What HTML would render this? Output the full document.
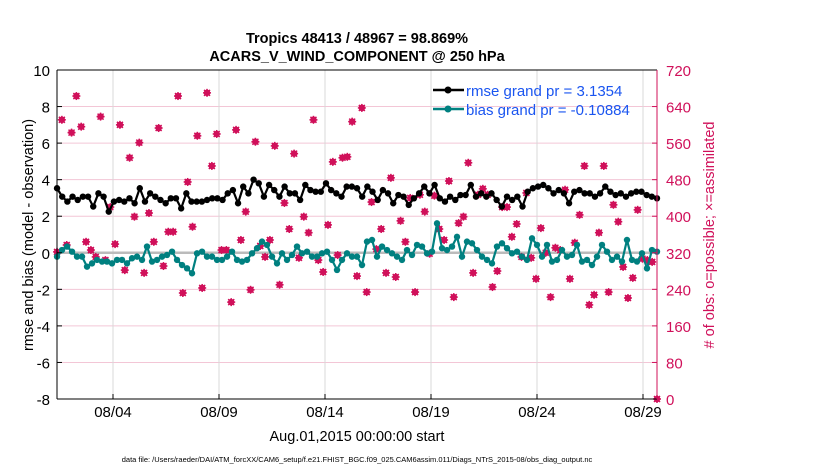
<!DOCTYPE html>
<html><head><meta charset="utf-8"><style>
body{margin:0;background:#fff;}
svg{display:block;font-family:"Liberation Sans",sans-serif;}
</style></head><body>
<svg id="chart" width="830" height="470">
<text x="357" y="43" text-anchor="middle" font-size="14.5" font-weight="bold">Tropics 48413 / 48967 = 98.869%</text>
<text x="357" y="61" text-anchor="middle" font-size="14.5" font-weight="bold">ACARS_V_WIND_COMPONENT @ 250 hPa</text>
<g id="grid"></g>
<g id="marks"></g>
<g id="axes"></g>
<text transform="translate(33,235) rotate(-90)" text-anchor="middle" font-size="14.5">rmse and bias (model - observation)</text>
<text transform="translate(714,235) rotate(-90)" text-anchor="middle" font-size="14.5" fill="#d0105a"># of obs: o=possible; ×=assimilated</text>
<text x="357" y="441" text-anchor="middle" font-size="14.5">Aug.01,2015 00:00:00 start</text>
<text x="357" y="462" text-anchor="middle" font-size="7.5">data file: /Users/raeder/DAI/ATM_forcXX/CAM6_setup/f.e21.FHIST_BGC.f09_025.CAM6assim.011/Diags_NTrS_2015-08/obs_diag_output.nc</text>
<g>
<line x1="433" y1="90" x2="464" y2="90" stroke="#000" stroke-width="2.5"/><circle cx="448" cy="90" r="3.5" fill="#000"/>
<text x="466" y="96" font-size="15" fill="#1a55f0">rmse grand pr = 3.1354</text>
<line x1="433" y1="109" x2="464" y2="109" stroke="#008080" stroke-width="2.5"/><circle cx="448" cy="109" r="3.5" fill="#008080"/>
<text x="466" y="115" font-size="15" fill="#1a55f0">bias grand pr = -0.10884</text>
</g>
</svg>
<script>
const rmse=[3.53,3.07,2.8,3.07,2.89,3.07,3.07,2.53,3.25,3.07,2.25,2.8,2.89,2.8,2.98,2.71,3.53,2.8,3.25,3.07,2.89,2.71,2.98,2.98,2.43,3.25,2.8,2.8,2.8,2.89,2.98,2.98,2.89,3.25,3.43,2.71,3.62,3.25,4.0,3.8,3.07,3.71,3.43,3.07,3.62,3.25,3.25,2.89,3.71,3.43,3.34,3.34,3.8,3.43,3.25,3.07,3.62,3.62,3.53,3.07,
3.62,3.34,2.89,3.43,3.25,2.71,3.16,3.07,2.62,2.98,3.25,3.62,3.25,3.71,2.98,2.8,3.07,2.89,3.16,3.16,3.71,3.07,3.25,3.07,3.25,2.89,2.53,3.07,2.89,3.07,2.53,3.34,3.53,3.62,3.71,3.53,3.25,3.43,3.25,2.71,3.34,3.43,3.25,3.25,3.07,3.25,3.62,3.34,3.16,3.25,3.07,3.25,3.34,3.34,3.16,3.07,2.98];
const bias=[-0.21,0.15,0.34,0.06,-0.21,-0.21,-0.76,-0.58,-0.39,-0.48,-0.48,-0.58,-0.39,-0.39,-0.58,-0.3,-0.21,-0.39,0.34,-0.48,-0.39,-0.21,-0.12,0.06,-0.39,-0.67,-0.85,-1.12,-0.03,0.06,-0.21,-0.21,-0.39,-0.39,-0.21,0.06,-0.39,-0.48,-0.39,-0.03,0.25,0.61,0.43,-0.21,-0.58,-0.03,-0.39,-0.12,0.34,-0.03,0.06,-0.21,-0.21,-0.03,0.06,-0.39,-0.94,-0.39,-0.03,-0.21,
-0.21,-0.67,0.61,0.7,-0.21,0.34,0.15,-0.03,-0.21,-0.39,0.15,-0.12,0.43,0.34,-0.03,0.06,1.61,0.25,0.15,0.34,0.87,-0.21,0.61,0.52,0.15,-0.21,-0.39,-0.58,0.34,0.52,0.25,-0.03,0.06,-0.21,-0.39,0.79,0.43,-0.21,0.43,-0.48,-0.39,0.15,-0.21,-0.12,0.43,-0.48,-0.39,-0.67,-0.21,0.43,0.06,-0.39,-0.21,-0.48,0.7,-0.39,-0.48,-0.03,-0.85,0.15,0.06];
const obs=[322,611,337,583,663,596,344,326,311,618,304,420,339,600,282,528,399,561,276,407,344,593,291,366,366,663,232,475,377,576,243,670,510,580,326,326,212,589,348,410,239,563,335,311,348,554,250,429,372,537,309,399,364,611,304,278,381,519,315,528,530,607,269,637,
234,431,328,372,276,484,267,390,344,440,234,447,410,318,445,372,348,477,223,385,399,517,276,447,460,447,245,280,420,420,355,383,311,451,309,263,374,320,223,331,326,458,263,342,403,510,206,228,364,510,234,425,388,289,221,265,414,307,304,300,0];
const xTicks=["08/04","08/09","08/14","08/19","08/24","08/29"];
const xTickDays=[3,8,13,18,23,28];
const leftTicks=[-8,-6,-4,-2,0,2,4,6,8,10];
const rightTicks=[0,80,160,240,320,400,480,560,640,720];
const startDay=0.36, endDay=28.66;

const L=57,R=657,T=70,B=399;
const xS=d=>49.4+21.2*d;
const yL=v=>B-(v+8)/18*(B-T);
const yR=v=>B-v/720*(B-T);
const NS="http://www.w3.org/2000/svg";
function mk(tag,at,parent){const e=document.createElementNS(NS,tag);for(const k in at)e.setAttribute(k,at[k]);parent.appendChild(e);return e;}
const grid=document.getElementById('grid'),marks=document.getElementById('marks'),axes=document.getElementById('axes');
function dayOf(i,n){return startDay+(endDay-startDay)*i/(n-1);}

leftTicks.forEach(v=>{
  const g=mk('line',{x1:L,x2:R,y1:yL(v),y2:yL(v),stroke:'#f3c6d6','stroke-width':1},grid);
  
  
  const t=mk('text',{x:L-7,y:yL(v)+6,'text-anchor':'end','font-size':15},axes);t.textContent=v;
  
  
  mk('line',{x1:L,x2:L+5,y1:yL(v),y2:yL(v),stroke:'#000'},axes);
});
rightTicks.forEach(v=>{
  const t=mk('text',{x:R+9,y:yR(v)+6,'font-size':15,fill:'#d0105a'},axes);t.textContent=v;
  
  
  mk('line',{x1:R-5,x2:R,y1:yR(v),y2:yR(v),stroke:'#d0105a'},axes);
});
xTicks.forEach((s,i)=>{
  const x=xS(xTickDays[i]);
  const g=mk('line',{x1:x,x2:x,y1:T,y2:B,stroke:'#d8d8d8'},grid);
  
  
  mk('line',{x1:x,x2:x,y1:B-5,y2:B,stroke:'#000'},axes);
  const t=mk('text',{x:x,y:B+18,'text-anchor':'middle','font-size':15},axes);t.textContent=s;
  
  
});
const z=mk('line',{x1:L,x2:R,y1:yL(0),y2:yL(0),stroke:'#bbb','stroke-width':2.5},grid);



obs.forEach((v,i)=>{
  const x=xS(dayOf(i,obs.length)),y=yR(v);
  const g=mk('g',{stroke:'#d0105a','stroke-width':1.5},marks);
  
  
  mk('circle',{cx:x,cy:y,r:2.5,fill:'none'},g);
  mk('line',{x1:x-4,x2:x+4,y1:y,y2:y},g);
  mk('line',{x1:x,x2:x,y1:y-4,y2:y+4},g);
  mk('line',{x1:x-3,x2:x+3,y1:y-3,y2:y+3},g);
  mk('line',{x1:x-3,x2:x+3,y1:y+3,y2:y-3},g);
});
function series(arr,color,name){
  const pts=arr.map((v,i)=>[xS(dayOf(i,arr.length)),yL(v)]);
  const p=mk('polyline',{points:pts.map(p=>p.join(',')).join(' '),fill:'none',stroke:color,'stroke-width':2.2},marks);
  
  
  pts.forEach(q=>{const c=mk('circle',{cx:q[0],cy:q[1],r:3.2,fill:color},marks);
    
    });
}
series(bias,'#008080','bias');
series(rmse,'#000','rmse');

mk('line',{x1:L,x2:R,y1:T,y2:T,stroke:'#000'},axes);
mk('line',{x1:L,x2:R,y1:B,y2:B,stroke:'#000'},axes);
mk('line',{x1:L,x2:L,y1:T,y2:B,stroke:'#000'},axes);
mk('line',{x1:R,x2:R,y1:T,y2:B,stroke:'#d0105a'},axes);
</script>
</body></html>
